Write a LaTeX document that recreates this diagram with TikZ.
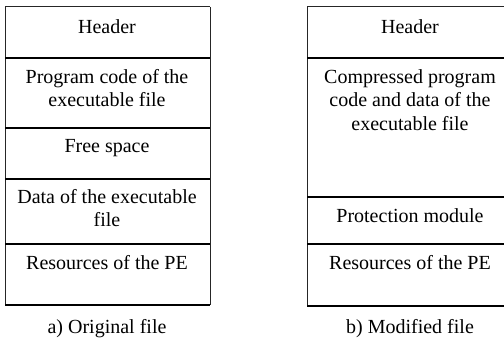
\documentclass[tikz,border=0pt]{standalone}
\usepackage{fontspec}
\setmainfont{Liberation Serif}

\tikzset{
  cell/.style={anchor=north, align=center, inner sep=0pt,
    font=\fontsize{20}{23.5}\selectfont},
  caption/.style={inner sep=0pt, font=\fontsize{20}{23.5}\selectfont},
  rule/.style={line width=1.2pt, black},
  frame/.style={line width=1pt, black!85},
}

\begin{document}
\begin{tikzpicture}[x=1pt, y=-1pt]
    \useasboundingbox (0,0) rectangle (504,339);

    % original file
    \draw[frame] (5,7) -- (210,7);
    \draw[frame] (5,7) -- (5,305);
    \draw[frame] (210,7) -- (210,305);
    \foreach \y in {58,128,179,244,305}
      \draw[rule] (5,\y) -- (210,\y);

    \node[cell] (hdrA) at (107,19) {Header};
    \node[cell] (codeA) at (107,69) {Program code of the\\executable file};
    \node[cell] (freeA) at (107,139) {Free space};
    \node[cell] (dataA) at (107,189) {Data of the executable\\file};
    \node[cell] (resA) at (107,255) {Resources of the PE};
    \node[caption] (capA) at (107,329) {a) Original file};

    % modified file
    \draw[frame] (307,7) -- (504,7);
    \draw[frame] (307,7) -- (307,306);
    \foreach \y in {58,197,244,306}
      \draw[rule] (307,\y) -- (504,\y);

    \node[cell] (hdrB) at (410,19) {Header};
    \node[cell] (packB) at (410,69) {Compressed program\\code and data of the\\executable file};
    \node[cell] (protB) at (410,208) {Protection module};
    \node[cell] (resB) at (410,255) {Resources of the PE};
    \node[caption] (capB) at (410,329) {b) Modified file};
\end{tikzpicture}
\end{document}
